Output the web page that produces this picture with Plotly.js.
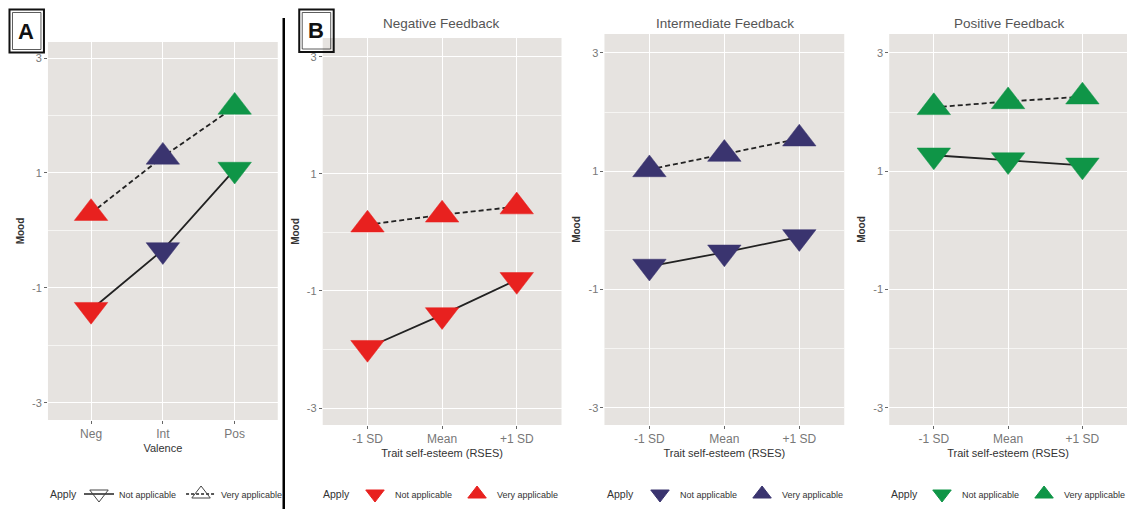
<!DOCTYPE html>
<html>
<head>
<meta charset="utf-8">
<script src="https://cdn.plot.ly/plotly-3.0.1.min.js"></script>
<style>html,body{margin:0;padding:0;background:#fff;}#chart{width:1131px;height:509px;}</style>
</head>
<body>
<div id="chart"></div>
<script>
// ---- data ----
const valenceCats = ['Neg', 'Int', 'Pos'];
const rsesCats = ['-1 SD', 'Mean', '+1 SD'];
const valenceNotApplicable = [-1.38, -0.34, 1.06];
const valenceVeryApplicable = [0.30, 1.28, 2.15];
const negNotApplicable = [-1.97, -1.41, -0.81];
const negVeryApplicable = [0.13, 0.30, 0.44];
const intNotApplicable = [-0.61, -0.37, -0.11];
const intVeryApplicable = [1.03, 1.29, 1.55];
const posNotApplicable = [1.27, 1.19, 1.10];
const posVeryApplicable = [2.08, 2.18, 2.26];
const yTickVals = [-3, -1, 1, 3];
const yTickText = ['-3', '-1', '1', '3'];
const yMinorVals = [-2, 0, 2];
const panelTitles = ['Negative Feedback', 'Intermediate Feedback', 'Positive Feedback'];
const applyLevels = ['Not applicable', 'Very applicable'];
const legendTitle = 'Apply';
const valenceColors = ['#E8211F', '#3A346F', '#0F9547'];

// ---- styling ----
const FONT = 'Liberation Sans, Arial, sans-serif';
const W = 1131, H = 509;
const px = v => v / W;
const py = v => (H - v) / H;
const MS = 29;
const LINE_COL = '#222';

function xAxis(domain, cats, anchor, title) {
  return {
    domain: domain, anchor: anchor, type: 'category',
    categoryorder: 'array', categoryarray: cats,
    range: [-0.6, 2.6], fixedrange: true,
    showgrid: true, gridcolor: '#ffffff', gridwidth: 1.1,
    zeroline: false, showline: false,
    ticks: 'outside', ticklen: 3, tickwidth: 1, tickcolor: '#666',
    tickfont: {family: FONT, size: 12, color: '#777777'},
    title: {text: title, font: {family: FONT, size: 11, color: '#333'}, standoff: 3}
  };
}
function yAxis(domain, anchor, range) {
  return {
    domain: domain, anchor: anchor, range: range, fixedrange: true,
    tickmode: 'array', tickvals: yTickVals, ticktext: yTickText,
    showgrid: true, gridcolor: '#ffffff', gridwidth: 1.1,
    minor: {tickmode: 'array', tickvals: yMinorVals, showgrid: true, gridcolor: '#f6f5f3', gridwidth: 0.6, ticks: ''},
    zeroline: false, showline: false,
    ticks: 'outside', ticklen: 3, tickwidth: 1, tickcolor: '#666',
    tickfont: {family: FONT, size: 11, color: '#777777'},
    title: {text: '<b>Mood</b>', font: {family: FONT, size: 10, color: '#333'}, standoff: 5}
  };
}

const traces = [];
function addPair(xa, ya, cats, na, va, colors) {
  traces.push({
    type: 'scatter', mode: 'lines+markers', x: cats, y: na, xaxis: xa, yaxis: ya,
    line: {color: LINE_COL, width: 1.8},
    marker: {symbol: 'triangle-down', size: MS, color: colors, line: {color: colors, width: 0.5}},
    showlegend: false, hoverinfo: 'x+y'
  });
  traces.push({
    type: 'scatter', mode: 'lines+markers', x: cats, y: va, xaxis: xa, yaxis: ya,
    line: {color: LINE_COL, width: 1.8, dash: '5px,3px'},
    marker: {symbol: 'triangle-up', size: MS, color: colors, line: {color: colors, width: 0.5}},
    showlegend: false, hoverinfo: 'x+y'
  });
}
// legend-only entries (a single null point, so nothing is drawn in the plot)
function addLegend(xa, ya, legendId, fill, lineCol, withLines) {
  traces.push({
    type: 'scatter', mode: withLines ? 'lines+markers' : 'markers', x: [null], y: [null], xaxis: xa, yaxis: ya,
    name: applyLevels[0], legend: legendId, hoverinfo: 'skip',
    line: {color: lineCol, width: 1.5},
    marker: {symbol: 'triangle-down', size: MS, color: fill, line: {color: withLines ? '#444' : fill, width: 1}}
  });
  traces.push({
    type: 'scatter', mode: withLines ? 'lines+markers' : 'markers', x: [null], y: [null], xaxis: xa, yaxis: ya,
    name: applyLevels[1], legend: legendId, hoverinfo: 'skip',
    line: {color: lineCol, width: 1.5, dash: '3px,2px'},
    marker: {symbol: 'triangle-up', size: MS, color: fill, line: {color: withLines ? '#444' : fill, width: 1}}
  });
}

// Panel A
addPair('x', 'y', valenceCats, valenceNotApplicable, valenceVeryApplicable, valenceColors);
addLegend('x', 'y', 'legend', 'rgba(255,255,255,0)', '#222', true);
// Panel B
const bNA = [negNotApplicable, intNotApplicable, posNotApplicable];
const bVA = [negVeryApplicable, intVeryApplicable, posVeryApplicable];
for (let i = 0; i < 3; i++) {
  const xa = 'x' + (i + 2), ya = 'y' + (i + 2);
  const c = valenceColors[i];
  addPair(xa, ya, rsesCats, bNA[i], bVA[i], [c, c, c]);
  addLegend(xa, ya, 'legend' + (i + 2), c, c, false);
}

const LEG_Y = 494;
const legendBase = {
  orientation: 'h', yanchor: 'middle', xanchor: 'left', y: py(LEG_Y),
  bgcolor: 'rgba(0,0,0,0)', borderwidth: 0,
  font: {family: FONT, size: 9, color: '#333'},
  itemclick: false, itemdoubleclick: false
};
const L = (x) => Object.assign({}, legendBase, {x: px(x)});
// "Apply" legend captions, left of each legend's keys
const applyCaption = (x) => ({text: legendTitle, xref: 'paper', yref: 'paper', x: px(x), y: py(LEG_Y), xanchor: 'left', yanchor: 'middle', showarrow: false, font: {family: FONT, size: 10.5, color: '#333'}});

const yDomA = [py(420), py(42)];
const yDomB1 = [py(425), py(38)];
const yDomB = [py(425), py(34)];

const titleFont = {family: FONT, size: 13.5, color: '#555'};
const layout = {
  width: W, height: H,
  margin: {l: 0, r: 0, t: 0, b: 0},
  paper_bgcolor: '#ffffff', plot_bgcolor: '#E6E3E0',
  font: {family: FONT},
  showlegend: true,
  xaxis: xAxis([px(48), px(278)], valenceCats, 'y', 'Valence'),
  yaxis: yAxis(yDomA, 'x', [-3.3, 3.28]),
  xaxis2: xAxis([px(323), px(562)], rsesCats, 'y2', 'Trait self-esteem (RSES)'),
  yaxis2: yAxis(yDomB1, 'x2', [-3.29, 3.32]),
  xaxis3: xAxis([px(605), px(845)], rsesCats, 'y3', 'Trait self-esteem (RSES)'),
  yaxis3: yAxis(yDomB, 'x3', [-3.29, 3.32]),
  xaxis4: xAxis([px(890), px(1128)], rsesCats, 'y4', 'Trait self-esteem (RSES)'),
  yaxis4: yAxis(yDomB, 'x4', [-3.29, 3.32]),
  legend: L(79),
  legend2: L(355),
  legend3: L(640),
  legend4: L(923),
  annotations: [
    {text: panelTitles[0], xref: 'paper', yref: 'paper', x: px(442), y: py(23), xanchor: 'center', yanchor: 'middle', showarrow: false, font: titleFont},
    {text: panelTitles[1], xref: 'paper', yref: 'paper', x: px(726), y: py(23), xanchor: 'center', yanchor: 'middle', showarrow: false, font: titleFont},
    {text: panelTitles[2], xref: 'paper', yref: 'paper', x: px(1010), y: py(23), xanchor: 'center', yanchor: 'middle', showarrow: false, font: titleFont},
    applyCaption(48), applyCaption(321), applyCaption(606), applyCaption(890),
    {text: '<b>A</b>', xref: 'paper', yref: 'paper', x: px(26.5), y: py(31), xanchor: 'center', yanchor: 'middle', showarrow: false, font: {family: FONT, size: 22, color: '#111'}},
    {text: '<b>B</b>', xref: 'paper', yref: 'paper', x: px(316.5), y: py(30.5), xanchor: 'center', yanchor: 'middle', showarrow: false, font: {family: FONT, size: 22, color: '#111'}}
  ],
  shapes: [
    {type: 'line', xref: 'paper', yref: 'paper', x0: px(284), x1: px(284), y0: 0, y1: py(18), line: {color: '#000', width: 2.5}},
    {type: 'rect', xref: 'paper', yref: 'paper', x0: px(9.5), x1: px(44), y0: py(52.5), y1: py(9.5), line: {color: '#111', width: 2}},
    {type: 'rect', xref: 'paper', yref: 'paper', x0: px(12.5), x1: px(41), y0: py(49.5), y1: py(12.5), line: {color: '#333', width: 0.8}},
    {type: 'rect', xref: 'paper', yref: 'paper', x0: px(299.5), x1: px(334), y0: py(52), y1: py(9.5), line: {color: '#111', width: 2}},
    {type: 'rect', xref: 'paper', yref: 'paper', x0: px(302.5), x1: px(331), y0: py(49), y1: py(12.5), line: {color: '#333', width: 0.8}}
  ]
};

Plotly.newPlot('chart', traces, layout, {displayModeBar: false});
</script>
</body>
</html>
